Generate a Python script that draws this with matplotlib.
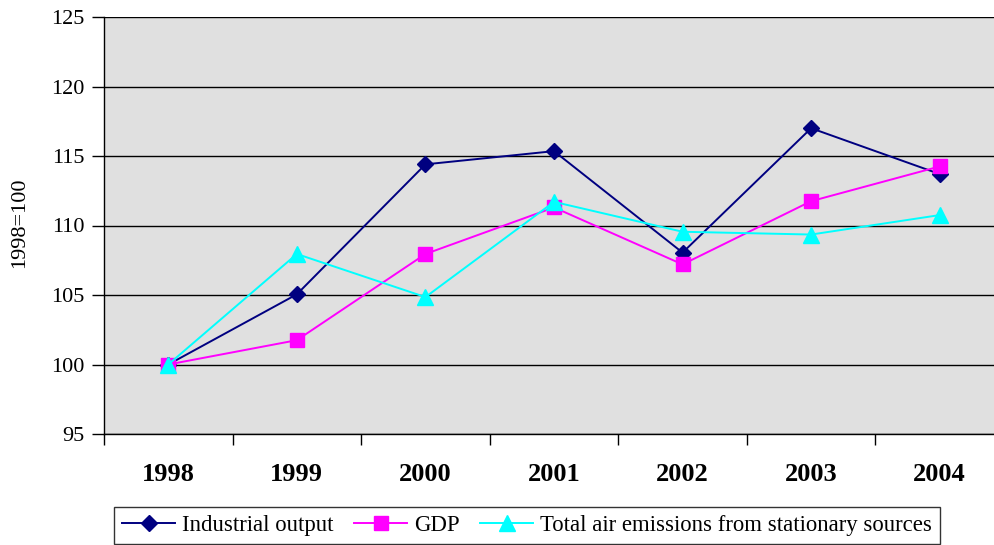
import matplotlib.pyplot as plt
from matplotlib.ticker import FixedLocator

plt.rcParams['font.family'] = ['Liberation Serif', 'DejaVu Serif']

years = ["1998", "1999", "2000", "2001", "2002", "2003", "2004"]
industrial = [100.0, 105.05, 114.4, 115.35, 108.05, 117.0, 113.7]
gdp = [100.0, 101.75, 107.95, 111.3, 107.2, 111.75, 114.25]
emissions = [100.0, 107.95, 104.85, 111.7, 109.55, 109.35, 110.75]
y_ticks = [95, 100, 105, 110, 115, 120, 125]

fig = plt.figure(figsize=(9.95, 5.45), dpi=100)
W, H = 995, 545
# plot area from x=104 to 1004 px (runs slightly off the right edge), y=17 to 434 px
ax = fig.add_axes([104 / W, 1 - 434 / H, 900 / W, (434 - 17) / H])
ax.set_facecolor('#e0e0e0')

x = list(range(len(years)))
ax.plot(x, industrial, color='#000080', lw=1.4, marker='D', ms=8.5,
        label='Industrial output', zorder=3)
ax.plot(x, gdp, color='#ff00ff', lw=1.4, marker='s', ms=10,
        label='GDP', zorder=4)
ax.plot(x, emissions, color='#00ffff', lw=1.4, marker='^', ms=11,
        label='Total air emissions from stationary sources', zorder=5)

ax.set_xlim(-0.5, 6.5)
ax.set_ylim(95, 125)
ax.set_yticks(y_ticks)
ax.set_yticklabels([str(v) for v in y_ticks], fontsize=16)
ax.yaxis.grid(True, color='black', lw=1)
ax.set_axisbelow(True)
ax.tick_params(axis='y', direction='out', length=9, width=1, pad=5)

ax.set_xticks(x)
ax.set_xticklabels(years, fontsize=19, fontweight='bold')
ax.tick_params(axis='x', which='major', length=0, pad=21)
ax.xaxis.set_minor_locator(FixedLocator([i - 0.5 for i in range(len(years) + 1)]))
ax.tick_params(axis='x', which='minor', direction='out', length=8, width=1)

for s in ['top', 'right']:
    ax.spines[s].set_visible(False)
ax.spines['left'].set_linewidth(1)
ax.spines['bottom'].set_linewidth(1)

fig.text(20 / W, 1 - 223 / H, '1998=100', rotation=90, fontsize=16,
         ha='center', va='center')

leg = fig.legend(loc='upper left', bbox_to_anchor=(114 / W, 1 - 507 / H),
                 ncol=3, fontsize=16.4, frameon=True, fancybox=False,
                 edgecolor='black', handlelength=2.35, handletextpad=0.28,
                 columnspacing=0.9, borderpad=0.35, borderaxespad=0)
leg.get_frame().set_linewidth(1)

fig.savefig('out.png', dpi=100)
